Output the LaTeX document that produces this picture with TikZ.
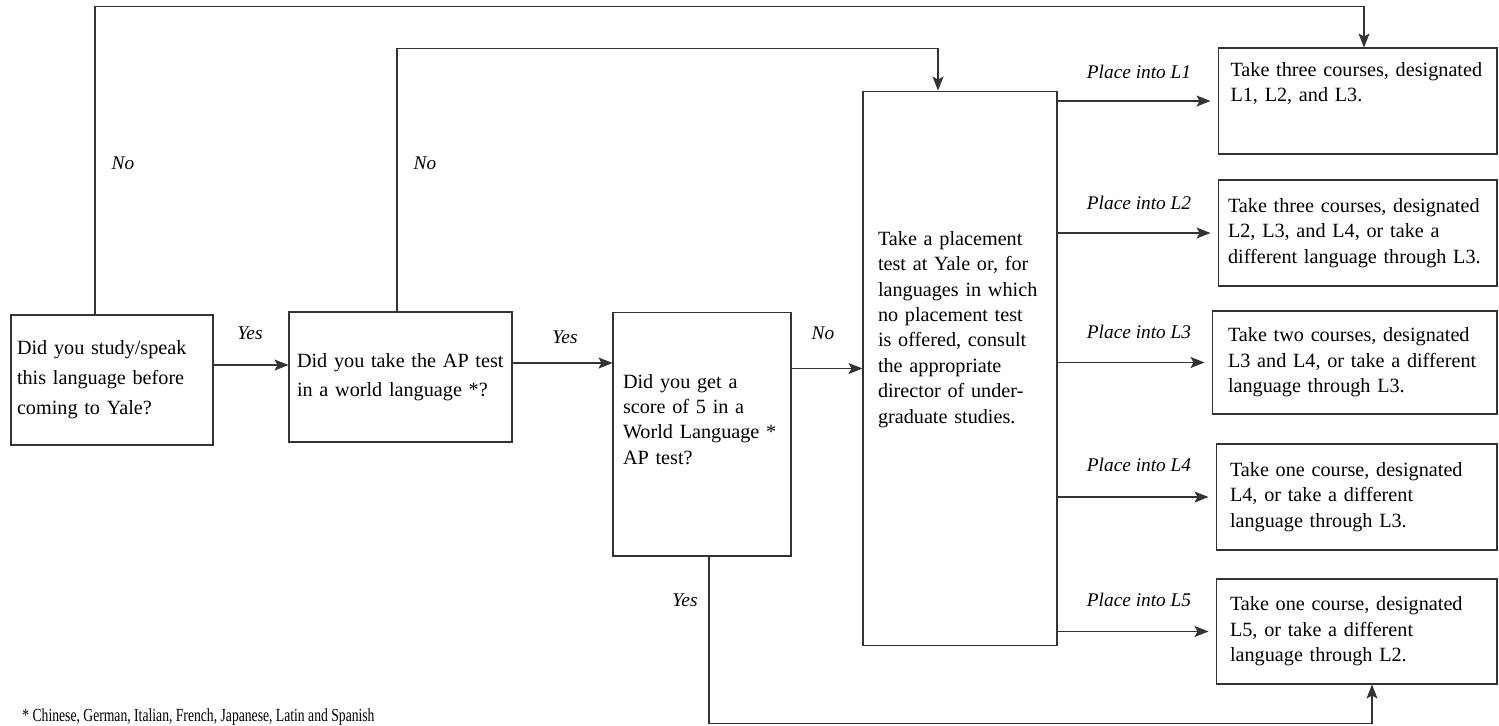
\documentclass[tikz,border=0pt]{standalone}
\usepackage{fontspec}
\usepackage{graphicx}
\setmainfont{Liberation Serif}
\usetikzlibrary{arrows.meta}
\newcommand{\boxtext}[3]{\parbox[c][#1][t]{\linewidth}{\raggedright\vspace*{#2}#3}}

\begin{document}
\begin{tikzpicture}[x=0.02cm, y=-0.02cm,
  box/.style = {draw=black!80, line width=0.6pt, rectangle, align=left, inner xsep=0.2cm, inner ysep=0.2cm, font=\fontsize{11.5}{14.5}\selectfont},
  lbl/.style = {font=\fontsize{11}{13}\selectfont\itshape, inner sep=0pt},
  arr/.style = {draw=black!80, line width=0.6pt, -{Stealth[length=2.8mm,width=2.2mm,inset=0.6mm]}}]
\useasboundingbox (0,0) rectangle (1499,725);

\node[box, text width=3.8cm, inner xsep=0.12cm, minimum height=2.6cm, font=\fontsize{11.5}{17}\selectfont] (q1) at (112,380) {Did you study/speak\\ this language before\\ coming to Yale?};
\node[box, text width=4.14cm, inner xsep=0.16cm, minimum height=2.6cm, font=\fontsize{11.5}{16.5}\selectfont] (q2) at (400.5,377) {Did you take the AP test\\ in a world language *?};
\node[box, text width=3.16cm, minimum height=4.88cm] (q3) at (702,434) {\boxtext{4.48cm}{1.04cm}{Did you get a\\ score of 5 in a\\ World Language *\\ AP test?}};
\node[box, text width=3.28cm, inner xsep=0.3cm, minimum height=11.1cm] (test) at (960,368.5) {\boxtext{10.7cm}{2.6cm}{Take a placement\\ test at Yale or, for\\ languages in which\\ no placement test\\ is offered, consult\\ the appropriate\\ director of under-\\ graduate studies.}};

\node[box, text width=5.08cm, inner xsep=0.25cm, minimum height=2.12cm] (r1) at (1357.5,101) {\boxtext{1.72cm}{0.08cm}{Take three courses, designated\\ L1, L2, and L3.}};
\node[box, text width=5.18cm, minimum height=2.12cm] (r2) at (1357.5,233) {Take three courses, designated\\ L2, L3, and L4, or take a\\ different language through L3.};
\node[box, text width=5.06cm, inner xsep=0.32cm, minimum height=2.06cm] (r3) at (1354.5,362.5) {Take two courses, designated\\ L3 and L4, or take a different\\ language through L3.};
\node[box, text width=5.06cm, inner xsep=0.28cm, minimum height=2.12cm] (r4) at (1356.5,497) {Take one course, designated\\ L4, or take a different\\ language through L3.};
\node[box, text width=5.06cm, inner xsep=0.28cm, minimum height=2.1cm] (r5) at (1356.5,631.5) {Take one course, designated\\ L5, or take a different\\ language through L2.};

\draw[arr] (q1.east |- 0,365) -- (q2.west |- 0,365);
\draw[arr] (q2.east |- 0,363) -- (q3.west |- 0,363);
\draw[arr] (q3.east |- test.west) -- (test.west);
\draw[arr] ([xshift=-0.34cm]q1.north) -- ++(0,-308) -| ([xshift=0.13cm]r1.north);
\draw[arr] ([xshift=-0.07cm]q2.north) -- ++(0,-263) -| ([xshift=-0.44cm]test.north);
\draw[arr] ([xshift=0.14cm]q3.south) -- ++(0,167) -| ([xshift=0.31cm]r5.south);
\foreach \i in {1,...,5}
  \draw[arr, shorten >=0.14cm] (test.east |- r\i.west) -- (r\i.west);

\node[lbl] (yes1) at (250,333) {Yes};
\node[lbl] (yes2) at (565,337) {Yes};
\node[lbl] (yes3) at (685,600) {Yes};
\node[lbl] (no1) at (123,163) {No};
\node[lbl] (no2) at (425,163) {No};
\node[lbl] (no3) at (823,333) {No};
\foreach \i/\y in {1/72, 2/203, 3/332, 4/465, 5/600}
  \node[lbl] (p\i) at (1139,\y) {Place into L\i};

\node[anchor=base west, inner sep=0pt, font=\fontsize{10.5}{12}\selectfont] (note) at (22,721) {\scalebox{0.74}[1]{* Chinese, German, Italian, French, Japanese, Latin and Spanish}};
\end{tikzpicture}
\end{document}
